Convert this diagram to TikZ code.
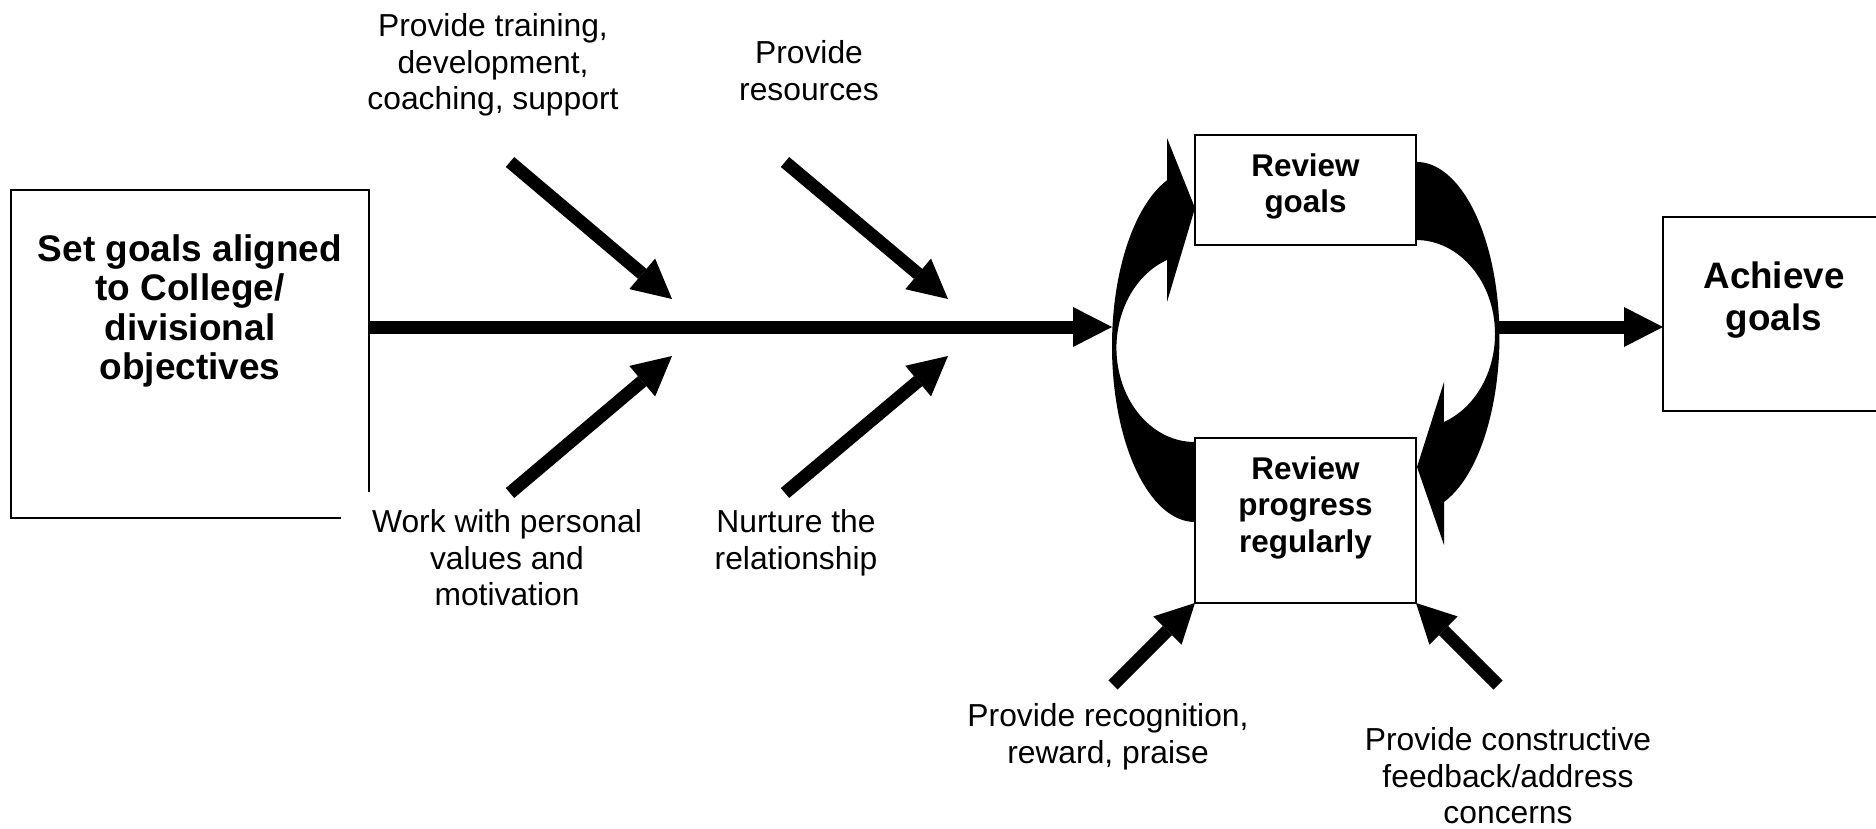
\documentclass[tikz,border=0pt]{standalone}
\usepackage{fontspec}
\setmainfont{Liberation Sans}
\usetikzlibrary{arrows.meta}

\begin{document}
\begin{tikzpicture}[x=0.5pt,y=-0.5pt,
  lbl/.style={inner sep=0pt, anchor=north, align=center,
              font=\fontsize{15.9}{18.3}\selectfont},
  ttl/.style={inner sep=0pt, anchor=north, align=center,
              font=\bfseries\fontsize{15.7}{18.35}\selectfont},
  bigttl/.style={inner sep=0pt, anchor=north, align=center,
              font=\bfseries\fontsize{18.5}{19.7}\selectfont},
  frame/.style={draw, line width=1pt, fill=white, inner sep=0pt, outer sep=0pt},
  fat/.style={line width=6.5pt,
              -{Triangle[length=19.5pt,width=20pt,line width=0pt]}},
  outline/.style={line width=1pt}
]
\useasboundingbox (0,0) rectangle (1876,829);

% ---------- starting box (its lower right corner is left open)
\node[inner sep=0pt, outer sep=0pt, minimum width=179pt, minimum height=164pt]
  (set) at (190,354) {};
\draw[outline] ([xshift=-14pt]set.south east) -- (set.south west)
  -- (set.north west) -- (set.north east) -- ([yshift=13pt]set.south east);
\node[bigttl] (settxt) at (190,234)
  {Set goals aligned\\to College/\\divisional\\objectives};

% ---------- review cycle: two crescent arrows
\fill (1167,138) -- (1195,208) -- (1167,302) -- (1167,260)
  arc[start angle=249.4, end angle=90, x radius=78, y radius=94]
  -- (1195,522)
  arc[start angle=90, end angle=250.3, x radius=83, y radius=176]
  -- cycle;
\fill (1444,382) -- (1417,467) -- (1444,545) -- (1444,502)
  arc[start angle=70.6, end angle=-90, x radius=83, y radius=175]
  -- (1416,240)
  arc[start angle=-90, end angle=69.3, x radius=79, y radius=94]
  -- cycle;
\coordinate (loopin) at (1112,327);
\coordinate (loopout) at (1498,327);

% ---------- review boxes
\node[frame, minimum width=110.5pt, minimum height=55pt] (rg) at (1305.5,190) {};
\node[ttl] (rgtxt) at (1305.5,153) {Review\\goals};
\node[frame, minimum width=110.5pt, minimum height=82.5pt] (rp) at (1305.5,520.5) {};
\node[ttl] (rptxt) at (1305.5,456) {Review\\progress\\regularly};

% ---------- outcome box
\node[frame, minimum width=111pt, minimum height=97pt] (ach) at (1774,314) {};
\node[inner sep=0pt, anchor=north, align=center,
      font=\bfseries\fontsize{18.4}{21.3}\selectfont] (achtxt) at (1774,261)
  {Achieve\\goals};

% ---------- main flow
\draw[fat] (set.east |- loopin) -- (loopin);
\draw[fat] (loopout) -- (loopout -| ach.west);

% ---------- contributing factors
\node[lbl] (train) at (493,13) {Provide training,\\development,\\coaching, support};
\node[lbl] (res) at (809,40) {Provide\\resources};
\node[lbl] (values) at (507,509) {Work with personal\\values and\\motivation};
\node[lbl] (nurture) at (796,509) {Nurture the\\relationship};
\node[lbl] (recog) at (1108,703) {Provide recognition,\\reward, praise};
\node[lbl] (feedback) at (1508,727) {Provide constructive\\feedback/address\\concerns};

\coordinate (trainS) at (510,162);  \coordinate (trainE) at (672,299);
\coordinate (resS) at (785,162);    \coordinate (resE) at (948,299);
\coordinate (valS) at (510,493);    \coordinate (valE) at (672,356);
\coordinate (nurS) at (785,493);    \coordinate (nurE) at (948,356);
\coordinate (recS) at (1113,685);
\coordinate (fbS) at (1498,685);

\draw[fat] (trainS) -- (trainE);
\draw[fat] (resS) -- (resE);
\draw[fat] (valS) -- (valE);
\draw[fat] (nurS) -- (nurE);
\draw[fat] (recS) -- (rp.south west);
\draw[fat] (fbS) -- (rp.south east);
\end{tikzpicture}
\end{document}
